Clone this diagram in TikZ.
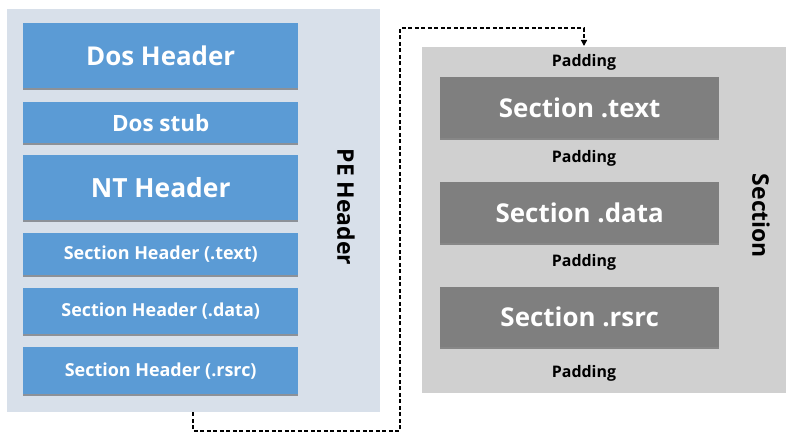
\documentclass[tikz,border=0pt]{standalone}
\usepackage{fontspec}
\setmainfont{Open Sans}
\usetikzlibrary{shadows,arrows.meta}

\definecolor{peback}{HTML}{D8E0EA}
\definecolor{secback}{HTML}{D0D0D0}
\definecolor{hdrblue}{HTML}{5B9BD5}
\definecolor{secgray}{HTML}{7F7F7F}

\tikzset{
  panel/.style={draw=none, inner sep=0pt, anchor=north west},
  hdrbox/.style={fill=hdrblue, draw=none, inner sep=0pt, anchor=north west,
    minimum width=275bp, text=white, font=\bfseries,
    drop shadow={shadow xshift=0bp, shadow yshift=-2bp, opacity=0.35, fill=black}},
  secbox/.style={fill=secgray, draw=none, inner sep=0pt, anchor=north west,
    minimum width=279bp, minimum height=61bp, text=white, font=\bfseries\fontsize{26}{30}\selectfont,
    drop shadow={shadow xshift=0bp, shadow yshift=-2bp, opacity=0.35, fill=black}},
  padlabel/.style={font=\bfseries\fontsize{16}{19}\selectfont, text=black, inner sep=0pt},
  sidelabel/.style={font=\bfseries\fontsize{23}{26}\selectfont, text=black, rotate=-90, inner sep=0pt},
  link/.style={draw=black, line width=1.3bp, dash pattern=on 4bp off 2.5bp, -{Triangle[length=6bp,width=6bp]}}
}

\begin{document}
\begin{tikzpicture}[x=1bp,y=-1bp]
\useasboundingbox[fill=white] (0,0) rectangle (786,434);

% PE header block with its parts
\node[panel, fill=peback, minimum width=373bp, minimum height=403bp] (pe) at (7,9) {};
\node[hdrbox, minimum height=65bp, font=\bfseries\fontsize{26}{30}\selectfont] (dosh) at (23,23) {Dos Header};
\node[hdrbox, minimum height=41bp, font=\bfseries\fontsize{22.5}{26}\selectfont] (doss) at (23,102) {Dos stub};
\node[hdrbox, minimum height=65bp, font=\bfseries\fontsize{26.5}{30}\selectfont] (nth) at (23,155) {NT Header};
\node[hdrbox, minimum height=42bp, font=\bfseries\fontsize{18}{21}\selectfont] (sht) at (23,233) {Section Header (.text)};
\node[hdrbox, minimum height=46bp, font=\bfseries\fontsize{18}{21}\selectfont] (shd) at (23,288) {Section Header (.data)};
\node[hdrbox, minimum height=47bp, font=\bfseries\fontsize{18}{21}\selectfont] (shr) at (23,347) {Section Header (.rsrc)};
\node[sidelabel] (pelabel) at (346,207) {PE Header};

% section block
\node[panel, fill=secback, minimum width=364bp, minimum height=346bp] (sec) at (422,47) {};
\node[padlabel] (pad0) at (584,62) {Padding};
\node[secbox] (stext) at (440,77) {Section .text};
\node[padlabel] (pad1) at (584,158) {Padding};
\node[secbox] (sdata) at (440,182) {Section .data};
\node[padlabel] (pad2) at (584,262) {Padding};
\node[secbox, minimum height=60bp] (srsrc) at (440,287) {Section .rsrc};
\node[padlabel] (pad3) at (584,373) {Padding};
\node[sidelabel] (seclabel) at (761,216) {Section};

% dashed link from the PE header to the sections
\coordinate (from) at (pe.south west -| 193,0);
\coordinate (to) at (584,46);
\coordinate (b1) at (193,431);
\coordinate (b2) at (400,431);
\coordinate (t1) at (400,28);
\coordinate (t2) at (584,28);
\draw[link] (from) -- (b1) -- (b2) -- (t1) -- (t2) -- (to);
\end{tikzpicture}
\end{document}
